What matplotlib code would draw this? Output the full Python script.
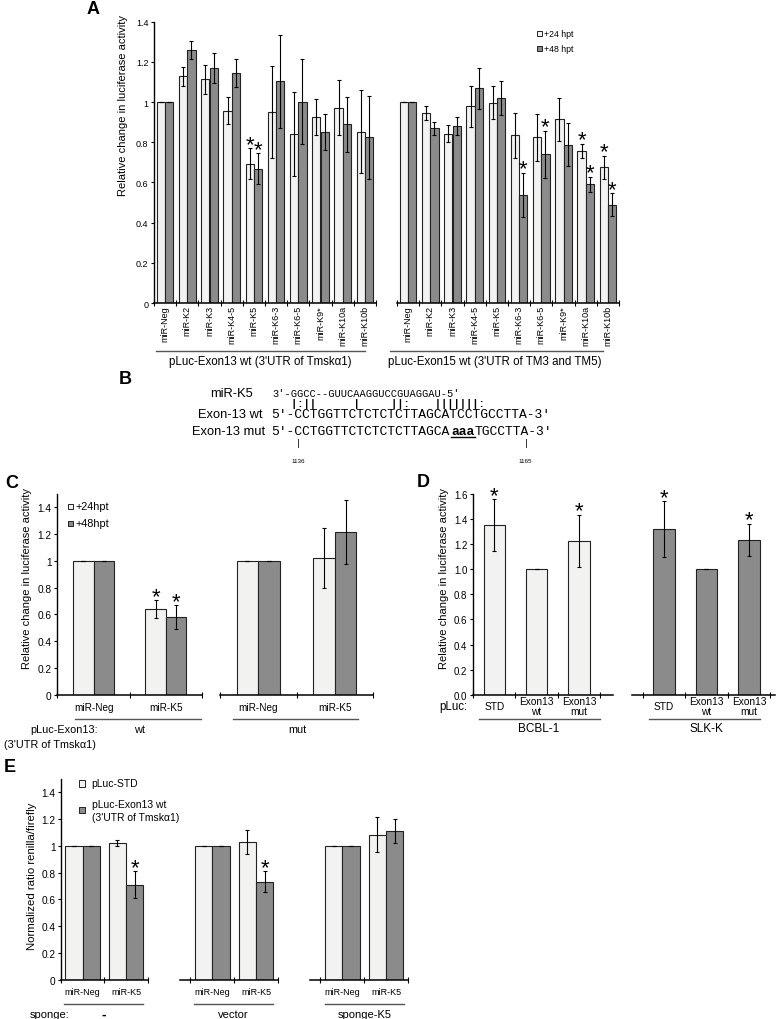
import numpy as np
import matplotlib
matplotlib.use("Agg")
import matplotlib.pyplot as plt
from matplotlib.lines import Line2D
from matplotlib.patches import Rectangle
from matplotlib.transforms import Affine2D
from matplotlib.ticker import FuncFormatter

plt.rcParams['font.family'] = ['Liberation Sans', 'DejaVu Sans']

#------------------------------------ data ------------------------------------
# panel A
cats_a = ['miR-Neg', 'miR-K2', 'miR-K3', 'miR-K4-5', 'miR-K5', 'miR-K6-3',
          'miR-K6-5', 'miR-K9*', 'miR-K10a', 'miR-K10b']
ex13_24 = [1.0, 1.128, 1.113, 0.958, 0.693, 0.952, 0.841, 0.924, 0.972, 0.852]
ex13_24_err = [0, 0.047, 0.073, 0.067, 0.077, 0.23, 0.21, 0.09, 0.137, 0.206]
ex13_48 = [1.0, 1.259, 1.171, 1.144, 0.668, 1.103, 1.002, 0.852, 0.889, 0.824]
ex13_48_err = [0, 0.045, 0.075, 0.068, 0.077, 0.23, 0.21, 0.09, 0.137, 0.205]
ex15_24 = [1.0, 0.944, 0.842, 0.978, 0.997, 0.834, 0.824, 0.914, 0.756, 0.675]
ex15_24_err = [0, 0.035, 0.043, 0.10, 0.083, 0.11, 0.118, 0.107, 0.036, 0.057]
ex15_48 = [1.0, 0.869, 0.881, 1.068, 1.020, 0.537, 0.740, 0.788, 0.590, 0.489]
ex15_48_err = [0, 0.034, 0.043, 0.10, 0.085, 0.11, 0.117, 0.107, 0.037, 0.057]
ex13_star24, ex13_star48 = [4], [4]
ex15_star24, ex15_star48 = [8, 9], [5, 6, 8, 9]

# panel B
seq_mir = "3'-GGCC--GUUCAAGGUCCGUAGGAU-5'"
seq_pair = "|:||      |     ||:    |||||||:"
seq_wt = "5'-CCTGGTTCTCTCTCTTAGCATCCTGCCTTA-3'"
seq_mut = ["5'-CCTGGTTCTCTCTCTTAGCA", "aaa", "TGCCTTA-3'"]
seq_pos = ['1136', '1165']

# panel C
cats_c = ['miR-Neg', 'miR-K5']
c_wt_24, c_wt_24_err = [1.0, 0.639], [0, 0.067]
c_wt_48, c_wt_48_err = [1.0, 0.582], [0, 0.088]
c_mut_24, c_mut_24_err = [1.0, 1.023], [0, 0.224]
c_mut_48, c_mut_48_err = [1.0, 1.216], [0, 0.24]
c_star24, c_star48 = [1], [1]

# panel D
cats_d = ['STD', 'Exon13\nwt', 'Exon13\nmut']
d_bcbl, d_bcbl_err = [1.353, 1.0, 1.228], [0.206, 0, 0.206]
d_slk, d_slk_err = [1.321, 1.0, 1.234], [0.223, 0, 0.13]
d_star = [0, 2]

# panel E
cats_e = ['miR-Neg', 'miR-K5']
groups_e = ['-', 'vector', 'sponge-K5']
e_std = [[1.0, 1.023], [1.0, 1.028], [1.0, 1.083]]
e_std_err = [[0, 0.022], [0, 0.09], [0, 0.13]]
e_ex13 = [[1.0, 0.710], [1.0, 0.733], [1.0, 1.112]]
e_ex13_err = [[0, 0.10], [0, 0.076], [0, 0.09]]
e_star = [[1], [1], []]

#----------------------------------- helpers ----------------------------------
W, H = 776, 1020
LIGHT = '#f2f3f1'
DARK = '#8b8b8b'
EDGE = '#222222'

fig = plt.figure(figsize=(W / 100, H / 100), dpi=100)
pix = Affine2D().scale(1 / W, -1 / H).translate(0, 1) + fig.transFigure


def add_ax(x0, y0, x1, y1):
    return fig.add_axes([x0 / W, 1 - y1 / H, (x1 - x0) / W, (y1 - y0) / H])


def txt(x, y, s, size=6.5, **kw):
    kw.setdefault('ha', 'center')
    kw.setdefault('va', 'center')
    return fig.text(x, y, s, transform=pix, fontsize=size, **kw)


def hline(x0, x1, y, color='#555555', lw=1.0):
    fig.add_artist(Line2D([x0, x1], [y, y], transform=pix, color=color, lw=lw))


def key(x, y, color, s, size, side=5, gap=2):
    fig.add_artist(Rectangle((x - side / 2, y - side / 2), side, side, transform=pix,
                             facecolor=color, edgecolor=EDGE, lw=0.7))
    if s:
        txt(x + side / 2 + gap, y, s, size=size, ha='left')


def bars(ax, x, vals, errs, color, w):
    ax.bar(x, vals, w, color=color, edgecolor=EDGE, linewidth=0.8, yerr=errs,
           error_kw=dict(ecolor='black', elinewidth=0.8, capsize=1.5, capthick=0.8),
           zorder=2)


def stars(ax, x, vals, errs, idx):
    for i in idx:
        ax.annotate('*', (x[i], vals[i] + errs[i]), xytext=(0, -1.2),
                    textcoords='offset points', ha='center', va='baseline',
                    fontsize=16, annotation_clip=False)


def style(ax, ylim, yticks, xlim, bounds, left=True, fmt='%g', tsize=6.5):
    ax.set_ylim(*ylim)
    ax.set_xlim(*xlim)
    for s in ('top', 'right'):
        ax.spines[s].set_visible(False)
    ax.spines['bottom'].set_linewidth(1.1)
    ax.spines['left'].set_linewidth(1.0)
    ax.set_facecolor('none')
    if left:
        ax.set_yticks(yticks)
        ax.yaxis.set_major_formatter(FuncFormatter(lambda v, _: fmt % v))
        ax.tick_params(axis='y', length=2.5, width=0.8, labelsize=tsize, pad=1.5)
    else:
        ax.spines['left'].set_visible(False)
        ax.set_yticks([])
    ax.set_xticks(bounds, minor=True)
    ax.tick_params(axis='x', which='minor', direction='inout', length=4, width=0.8)
    ax.tick_params(axis='x', which='major', length=0)


#---------------------------------- panel A -----------------------------------
xa = np.arange(len(cats_a))
wa = 0.375
panel_a = [(add_ax(154, 22.7, 376, 304), ex13_24, ex13_24_err, ex13_48, ex13_48_err,
            ex13_star24, ex13_star48, True),
           (add_ax(397, 22.7, 619, 304), ex15_24, ex15_24_err, ex15_48, ex15_48_err,
            ex15_star24, ex15_star48, False)]
for ax, v24, e24, v48, e48, s24, s48, left in panel_a:
    bars(ax, xa - wa / 2, v24, e24, LIGHT, wa)
    bars(ax, xa + wa / 2, v48, e48, DARK, wa)
    stars(ax, xa - wa / 2, v24, e24, s24)
    stars(ax, xa + wa / 2, v48, e48, s48)
    style(ax, (0, 1.4), np.arange(0, 1.41, 0.2), (-0.5, len(cats_a) - 0.5),
          np.arange(-0.5, len(cats_a)), left=left, tsize=6.5)
    ax.set_xticks(xa)
    ax.set_xticklabels(cats_a, rotation=90, fontsize=6.5)
    ax.tick_params(axis='x', which='major', pad=1.5)

txt(123, 106, 'Relative change in luciferase activity', size=8, rotation=90)
key(539.5, 34.7, LIGHT, '+24 hpt', 6.3, side=4.5)
key(539.5, 49.3, DARK, '+48 hpt', 6.3, side=4.5)
hline(156, 365, 352)
hline(390, 603, 352)
txt(260.5, 362, "pLuc-Exon13 wt (3'UTR of Tmsk\u03b11)", size=8.3)
txt(495, 362, "pLuc-Exon15 wt (3'UTR of TM3 and TM5)", size=8.3)

#---------------------------------- panel B -----------------------------------
mono = 'Liberation Mono'
big, small = 9.4, 7.5
pitch = 0.6 * big * 100 / 72
txt(253, 394, 'miR-K5', size=9.3, ha='right')
txt(263, 415, 'Exon-13 wt', size=9.3, ha='right')
txt(265, 432, 'Exon-13 mut', size=9.3, ha='right')
txt(272.5, 394, seq_mir, size=small, ha='left', family=mono)
txt(291, 404, seq_pair, size=small, ha='left', family=mono, weight='bold')
txt(271, 415, seq_wt, size=big, ha='left', family=mono)
xs = 271
for k, part in enumerate(seq_mut):
    txt(xs, 432, part, size=big, ha='left', family=mono,
        weight='bold' if k == 1 else 'normal')
    if k == 1:
        hline(xs, xs + len(part) * pitch, 438, color='black', lw=1.0)
    xs += len(part) * pitch
for i, lab in zip([3, 32], seq_pos):
    xc = 271 + (i + 0.5) * pitch
    fig.add_artist(Line2D([xc, xc], [440, 448], transform=pix, color='#333333', lw=0.7))
    txt(xc, 462, lab, size=4.5)

#---------------------------------- panel C -----------------------------------
xc_ = np.arange(len(cats_c))
wc = 0.282
panel_c = [(add_ax(57, 495, 202, 695.7), (-0.506, 1.314), c_wt_24, c_wt_24_err,
            c_wt_48, c_wt_48_err, c_star24, c_star48, True),
           (add_ax(220, 495, 373, 695.7), (-0.45, 1.46), c_mut_24, c_mut_24_err,
            c_mut_48, c_mut_48_err, [], [], False)]
for ax, xl, v24, e24, v48, e48, s24, s48, left in panel_c:
    bars(ax, xc_ - wc / 2, v24, e24, LIGHT, wc)
    bars(ax, xc_ + wc / 2, v48, e48, DARK, wc)
    stars(ax, xc_ - wc / 2, v24, e24, s24)
    stars(ax, xc_ + wc / 2, v48, e48, s48)
    style(ax, (0, 1.5), np.arange(0, 1.41, 0.2), xl, [-0.5, 0.5, 1.5], left=left,
          tsize=7.3)
    ax.set_xticks(xc_)
    ax.set_xticklabels(cats_c, fontsize=7.2)
    ax.tick_params(axis='x', which='major', pad=5.5)

txt(27, 579, 'Relative change in luciferase activity', size=8, rotation=90)
key(70.5, 507, LIGHT, '+24hpt', 7.8)
key(70.5, 524, DARK, '+48hpt', 7.8)
hline(75, 201, 720)
hline(233, 358, 720)
txt(140, 730, 'wt', size=7.8)
txt(297, 730, 'mut', size=7.8)
txt(64.5, 730, 'pLuc-Exon13:', size=7.8)
txt(50, 745, "(3'UTR of Tmsk\u03b11)", size=7.8)

#---------------------------------- panel D -----------------------------------
xd = np.arange(len(cats_d))
wd = 0.5
panel_d = [(add_ax(473, 495, 613, 695.7), (-0.485, 2.80), d_bcbl, d_bcbl_err, LIGHT, True),
           (add_ax(632, 495, 775, 695.7), (-0.75, 2.61), d_slk, d_slk_err, DARK, False)]
for ax, xl, v, e, col, left in panel_d:
    bars(ax, xd, v, e, col, wd)
    stars(ax, xd, v, e, d_star)
    style(ax, (0, 1.6), np.arange(0, 1.61, 0.2), xl, [-0.5, 0.5, 1.5, 2.5],
          left=left, fmt='%.1f', tsize=7)
    ax.set_xticks(xd)
    ax.set_xticklabels(cats_d, fontsize=7.3, linespacing=0.95)
    for t in ax.get_xticklabels():
        t.set_va('center')
    ax.tick_params(axis='x', which='major', pad=8)

txt(444, 579, 'Relative change in luciferase activity', size=8, rotation=90)
txt(453, 707, 'pLuc:', size=8.3)
hline(479, 600, 720)
hline(649, 760, 720)
txt(539, 729, 'BCBL-1', size=8.5)
txt(706, 729, 'SLK-K', size=8.5)

#---------------------------------- panel E -----------------------------------
xe = np.arange(len(cats_e))
we = 0.4
e_boxes = [(61, 147.7, (-0.5, 1.5)), (180, 278.3, (-0.74, 1.51)), (310, 408.3, (-0.74, 1.51))]
for g, (x0, x1, xl) in enumerate(e_boxes):
    ax = add_ax(x0, 780, x1, 980.7)
    bars(ax, xe - we / 2, e_std[g], e_std_err[g], LIGHT, we)
    bars(ax, xe + we / 2, e_ex13[g], e_ex13_err[g], DARK, we)
    stars(ax, xe + we / 2, e_ex13[g], e_ex13_err[g], e_star[g])
    style(ax, (0, 1.5), np.arange(0, 1.41, 0.2), xl, [-0.5, 0.5, 1.5], left=(g == 0),
          tsize=7.3)
    ax.set_xticks(xe)
    ax.set_xticklabels(cats_e, fontsize=6.5)
    ax.tick_params(axis='x', which='major', pad=5)

txt(32, 876, 'Normalized ratio renilla/firefly', size=8.2, rotation=90)
key(82, 784.5, LIGHT, 'pLuc-STD', 7.5, side=6.5, gap=6.5)
key(82, 811, DARK, '', 7.5, side=6.5)
txt(92, 805, 'pLuc-Exon13 wt', size=7.5, ha='left')
txt(92, 818, "(3'UTR of Tmsk\u03b11)", size=7.5, ha='left')
for (x0, x1), lab in zip([(64, 143), (194, 273), (325, 404)], groups_e):
    hline(x0, x1, 1005)
    txt((x0 + x1) / 2, 1015, lab, size=10 if lab == '-' else 8,
        weight='bold' if lab == '-' else 'normal')
txt(49.5, 1015, 'sponge:', size=8)

#------------------------------- panel letters --------------------------------
for lab, x, y in [('A', 93, 10), ('B', 125, 380), ('C', 12, 484),
                  ('D', 423, 483), ('E', 10, 768)]:
    txt(x, y, lab, size=13, weight='bold')

fig.savefig('out.png', dpi=100)
